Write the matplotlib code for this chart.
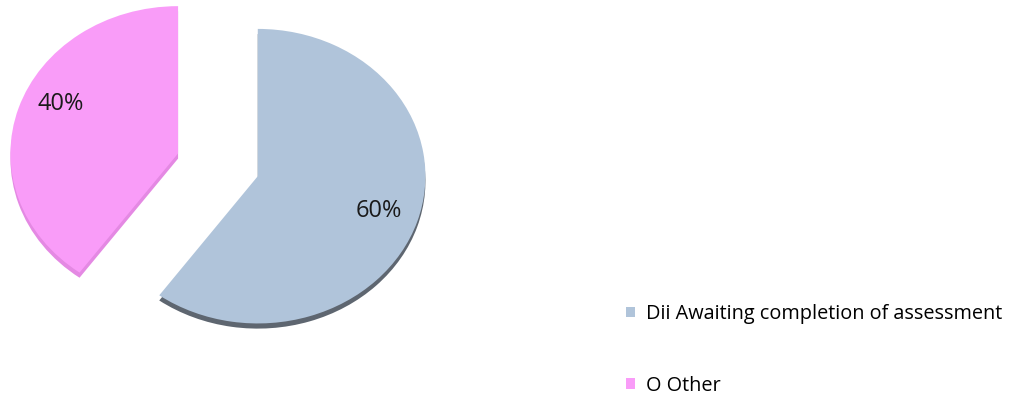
import matplotlib
matplotlib.use("Agg")
import matplotlib.pyplot as plt
from matplotlib.patches import Patch

categories = ["Dii Awaiting completion of assessment", "O Other"]
shares = [60, 40]
colors = ["#b0c4da", "#f99cf8"]
side_colors = ["#5e6670", "#e489e3"]

plt.rcParams['font.family'] = ['Open Sans', 'DejaVu Sans']

fig = plt.figure(figsize=(10.16, 4.0), dpi=100)
ax = fig.add_axes([0.0, 0.183, 0.429, 0.81])

explode = [0.25, 0.25]

# darker copy shifted down gives the 3-D rim
ax.pie(shares, colors=side_colors, explode=explode, startangle=90,
       counterclock=False, center=(0.0, -0.035),
       wedgeprops=dict(linewidth=0))
wedges, texts, autotexts = ax.pie(
    shares, colors=colors, explode=explode, startangle=90,
    counterclock=False, autopct='%1.0f%%', pctdistance=0.76,
    wedgeprops=dict(linewidth=0),
    textprops=dict(fontsize=17, color='#1a1a1a'))
# the 40% label sits a little higher in the original
x, y = autotexts[1].get_position()
autotexts[1].set_position((x + 0.02, y + 0.1))

ax.set_aspect('auto')
ax.set_xlim(-1.3, 1.3)
ax.set_ylim(-1.1, 1.1)
ax.axis('off')

handles = [Patch(facecolor=c, edgecolor='none') for c in colors]
fig.legend(handles, categories, loc='upper left',
           bbox_to_anchor=(626 / 1016, 1 - 304 / 400), frameon=False,
           fontsize=14.3, labelspacing=2.6, handlelength=0.45,
           handleheight=0.45, handletextpad=0.55, borderpad=0,
           borderaxespad=0)

fig.savefig("out.png", dpi=100)
